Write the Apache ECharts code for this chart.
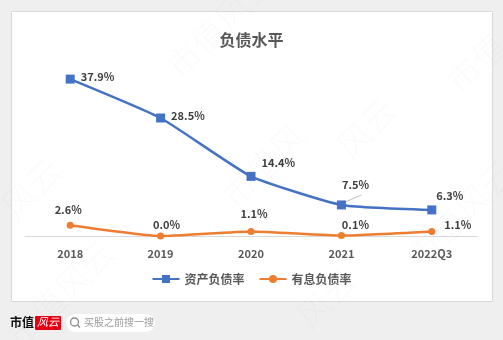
<!DOCTYPE html>
<html><head><meta charset="utf-8">
<style>html,body{margin:0;padding:0;background:#fff;}#c{width:503px;height:340px;}</style>
<script src="https://cdn.jsdelivr.net/npm/echarts@6/dist/echarts.min.js"></script>
</head><body><div id="c"></div>
<script>
const categories = ['2018','2019','2020','2021','2022Q3'];
const assetRatio = [37.9, 28.5, 14.4, 7.5, 6.3];
const interestRatio = [2.6, 0.0, 1.1, 0.1, 1.1];
const seriesNames = ['资产负债率','有息负债率'];

const chart = echarts.init(document.getElementById('c'));
const font = '"Noto Sans CJK SC","Microsoft YaHei",sans-serif';
const lblStyle = {fontFamily: font, fontSize: 11, fontWeight: 'bold', color: '#404040'};
const wm = (x, y, t, s) => ({type:'text', x:x, y:y, rotation: Math.PI/4, z:100, silent:true,
  style:{text:t, fontSize:s||34, fontWeight:'lighter', fontFamily:'"Noto Sans CJK SC",serif', fill:'rgba(0,0,0,0.028)'}});

chart.setOption({
  backgroundColor: '#efefef',
  animation: false,
  title: {text:'负债水平', left:'center', top:27,
    textStyle:{fontFamily:font, fontSize:16, fontWeight:'bold', color:'#595959'}},
  graphic: [
    {type:'rect', shape:{x:11.5, y:11.5, width:481, height:290}, z:-10,
      style:{fill:'#fff', stroke:'#d9d9d9', lineWidth:1}},
    {type:'text', x:10, y:316, style:{text:'市值', fontSize:12, fontWeight:'bold', fontFamily:'"Noto Sans CJK SC",serif', fill:'#111'}},
    {type:'rect', shape:{x:35, y:316, width:26, height:14, r:1}, style:{fill:'#e60012'}},
    {type:'text', x:37, y:316, style:{text:'风云', fontSize:11, fontStyle:'italic', fontFamily:font, fill:'#fff'}},
    {type:'rect', shape:{x:66, y:314, width:89, height:18, r:9}, style:{fill:'#fff'}},
    {type:'circle', shape:{cx:74.5, cy:322, r:4}, style:{fill:'none', stroke:'#888', lineWidth:1.3}},
    {type:'line', shape:{x1:77.5, y1:325, x2:80, y2:327.5}, style:{stroke:'#888', lineWidth:1.3}},
    {type:'text', x:84, y:317, style:{text:'买股之前搜一搜', fontSize:10, fontFamily:font, fill:'#9a9a9a'}},
    wm(160, 60, '市值风云'), wm(-5, 200, '风云'), wm(215, 190, '市值风'), wm(330, 140, '风云'),
    wm(440, 75, '市值'), wm(0, 330, '市值风云'), wm(400, 250, '市值风云'), wm(290, 310, '风云')
  ],
  legend: {bottom: 50, left:'center', itemWidth:27, itemHeight:10, itemGap:14,
    data: seriesNames,
    textStyle:{fontFamily:font, fontSize:12, fontWeight:'bold', color:'#595959'}},
  grid: {left:25, right:26, top:70.4, bottom:104, containLabel:false},
  xAxis: {type:'category', data:categories, boundaryGap:true,
    axisLine:{lineStyle:{color:'#d9d9d9', width:1}}, axisTick:{show:false},
    axisLabel:{fontFamily:font, fontSize:11, fontWeight:'bold', color:'#595959', margin:12}},
  yAxis: {type:'value', min:0, max:40, show:false, splitLine:{show:false}},
  series: [
    {name:seriesNames[0], type:'line', data:assetRatio, smooth:0.15,
      symbol:'rect', symbolSize:9, color:'#4472C4',
      lineStyle:{width:2.5, color:'#4472C4'}, itemStyle:{color:'#4472C4'},
      label:{show:true, formatter: p => p.value.toFixed(1)+'%', ...lblStyle, position:'right', distance:6},
      labelLayout: function(p){
        const offs = [[0,-2],[0,-2],[0,-14],[-10,-20],[-6,-14]];
        const o = offs[p.dataIndex];
        return {dx:o[0], dy:o[1]};
      },
      labelLine:{show:false}
    },
    {name:seriesNames[1], type:'line', data:interestRatio, smooth:0.15,
      symbol:'circle', symbolSize:7, color:'#ED7D31',
      lineStyle:{width:2.5, color:'#ED7D31'}, itemStyle:{color:'#ED7D31'},
      label:{show:true, formatter: p => p.value.toFixed(1)+'%', ...lblStyle, position:'top', distance:6},
      labelLayout: function(p){
        const offs = [[-2,0],[6,4],[3,-3],[14,4],[26,8]];
        const o = offs[p.dataIndex];
        return {dx:o[0], dy:o[1]};
      }
    }
  ]
});
// leader line for 7.5%
const pt = chart.convertToPixel({seriesIndex:0}, [3, assetRatio[3]]);
chart.setOption({graphic: chart.getOption().graphic[0].elements.concat([
  {type:'line', shape:{x1:pt[0]+4, y1:pt[1]-3, x2:pt[0]+20, y2:pt[1]-10}, style:{stroke:'#bfbfbf', lineWidth:1}}
])}, {replaceMerge:['graphic']});
</script></body></html>
